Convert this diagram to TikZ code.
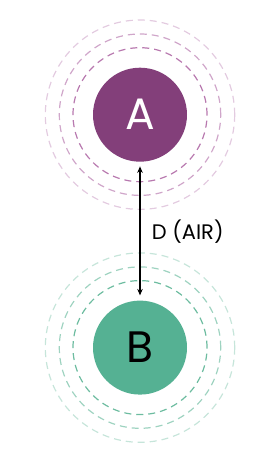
\documentclass[tikz,border=0pt]{standalone}
\usepackage{fontspec}
\setmainfont{Poppins}
\usepackage{tikz}
\usetikzlibrary{arrows.meta, positioning}
\definecolor{nodeAFill}{HTML}{833F7A}
\definecolor{nodeARing}{HTML}{B06AA6}
\definecolor{nodeBFill}{HTML}{55B193}
\definecolor{nodeBRing}{HTML}{5DB596}

\begin{document}
\begin{tikzpicture}[
  x=1pt, y=1pt,
  site/.style={circle, minimum size=94pt, inner sep=0pt, font=\fontsize{44}{44}\selectfont},
  ring/.style={dash pattern=on 7pt off 5pt, line width=1.2pt},
  arrow/.style={{Stealth[length=6.5pt, width=5.5pt]}-{Stealth[length=6.5pt, width=5.5pt]}, line width=1.2pt}
]
  \useasboundingbox (0,0) rectangle (280,471);
  % Nodes
  \node (A) [site, fill=nodeAFill, text=white] at (140,356.3) {A};
  \node (B) [site, fill=nodeBFill, text=black, below=138.5pt of A] {B};

  % Rings
  \foreach \r/\op in {67/0.9, 80.7/0.6, 94.7/0.35} {
    \draw [ring, draw=nodeARing, draw opacity=\op] (A.center) circle (\r);
    \draw [ring, draw=nodeBRing, draw opacity=\op] (B.center) circle (\r);
  }

  % Connector
  \draw [arrow, shorten <=4.5pt, shorten >=5pt] (A) -- node[right=8pt, font=\fontsize{21}{21}\selectfont] {D (AIR)} (B);
\end{tikzpicture}
\end{document}
